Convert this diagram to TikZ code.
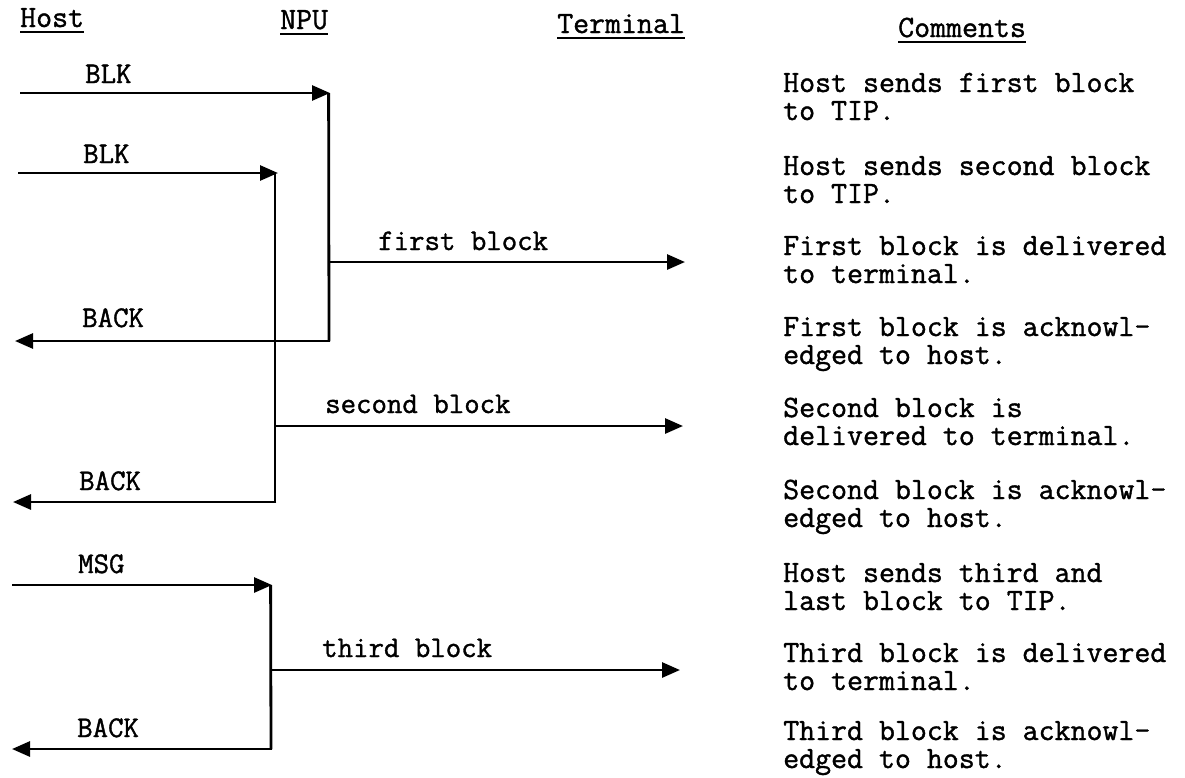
\documentclass[tikz,border=0pt]{standalone}
\usepackage{fontspec}
\setmonofont[FakeBold=1.2]{Latin Modern Mono}
\usetikzlibrary{arrows.meta}
\tikzset{
  wire/.style={line width=2.8pt, line cap=butt, line join=miter},
  msg/.style={wire, -{Triangle[length=18pt,width=15pt]}},
  hdr/.style={inner sep=0pt, anchor=base west, font=\ttfamily\fontsize{31}{32}\selectfont},
  lbl/.style={inner sep=0pt, anchor=base west, font=\ttfamily\fontsize{30}{31}\selectfont},
  cmt/.style={inner sep=0pt, anchor=base west, font=\ttfamily\fontsize{31}{32}\selectfont},
  uline/.style={line width=2.4pt}
}
\begin{document}
\begin{tikzpicture}[x=1pt,y=-1pt]
\useasboundingbox (0,0) rectangle (1185,777);
% headers
\node[hdr] (hHost) at (20,27) {Host};
\node[hdr] (hNPU) at (280,29) {NPU};
\node[hdr] (hTerm) at (557,33) {Terminal};
\node[hdr] (hCom) at (898,37) {Comments};
\draw[uline] ([yshift=-5pt]hHost.base west) -- ([yshift=-5pt]hHost.base east);
\draw[uline] ([yshift=-5pt]hNPU.base west) -- ([yshift=-5pt]hNPU.base east);
\draw[uline] ([yshift=-5pt]hTerm.base west) -- ([yshift=-5pt]hTerm.base east);
\draw[uline] ([yshift=-5pt]hCom.base west) -- ([yshift=-5pt]hCom.base east);

% coordinates
\coordinate (h1) at (20,93);   \coordinate (n1) at (330,93);
\coordinate (h2) at (18,173);  \coordinate (n2) at (278,173);
\coordinate (f1) at (329,262); \coordinate (t1) at (685,262);
\coordinate (b1) at (329,341); \coordinate (hb1) at (15,341);
\coordinate (f2) at (275,426); \coordinate (t2) at (683,426);
\coordinate (b2) at (275,502); \coordinate (hb2) at (13,502);
\coordinate (h3) at (12,585);  \coordinate (n3) at (272,585);
\coordinate (f3) at (271,670); \coordinate (t3) at (680,670);
\coordinate (b3) at (271,749); \coordinate (hb3) at (12,749);

% block 1
\draw[msg] (h1) -- (n1);
\draw[wire] ([xshift=-1.4pt]n1) -- (b1);
\draw[msg] (f1) -- (t1);
\draw[msg] ([xshift=1.4pt]b1) -- (hb1);
% block 2
\draw[msg] (h2) -- (n2);
\draw[wire] ([xshift=-3pt]n2) -- (b2);
\draw[msg] (f2) -- (t2);
\draw[msg] ([xshift=1.4pt]b2) -- (hb2);
% block 3
\draw[msg] (h3) -- (n3);
\draw[wire] ([xshift=-1.4pt]n3) -- (b3);
\draw[msg] (f3) -- (t3);
\draw[msg] ([xshift=1.4pt]b3) -- (hb3);

% labels
\node[lbl] (lBLK1) at (85,83) {BLK};
\node[lbl] (lBLK2) at (83,163) {BLK};
\node[lbl] (lfirst) at (378,250) {first block};
\node[lbl] (lBACK1) at (82,327) {BACK};
\node[lbl] (lsecond) at (325,413) {second block};
\node[lbl] (lBACK2) at (79,490) {BACK};
\node[lbl] (lMSG) at (78,573) {MSG};
\node[lbl] (lthird) at (322,657) {third block};
\node[lbl] (lBACK3) at (77,737) {BACK};

% comments
\node[cmt] (c1a) at (783,92) {Host sends first block};
\node[cmt] (c1b) at (783,120) {to TIP.};
\node[cmt] (c2a) at (783,175) {Host sends second block};
\node[cmt] (c2b) at (783,203) {to TIP.};
\node[cmt] (c3a) at (783,255) {First block is delivered};
\node[cmt] (c3b) at (783,283) {to terminal.};
\node[cmt] (c4a) at (783,336) {First block is acknowl-};
\node[cmt] (c4b) at (783,364) {edged to host.};
\node[cmt] (c5a) at (783,417) {Second block is};
\node[cmt] (c5b) at (783,445) {delivered to terminal.};
\node[cmt] (c6a) at (783,499) {Second block is acknowl-};
\node[cmt] (c6b) at (783,527) {edged to host.};
\node[cmt] (c7a) at (783,582) {Host sends third and};
\node[cmt] (c7b) at (783,610) {last block to TIP.};
\node[cmt] (c8a) at (783,662) {Third block is delivered};
\node[cmt] (c8b) at (783,690) {to terminal.};
\node[cmt] (c9a) at (783,740) {Third block is acknowl-};
\node[cmt] (c9b) at (783,768) {edged to host.};
\end{tikzpicture}
\end{document}
